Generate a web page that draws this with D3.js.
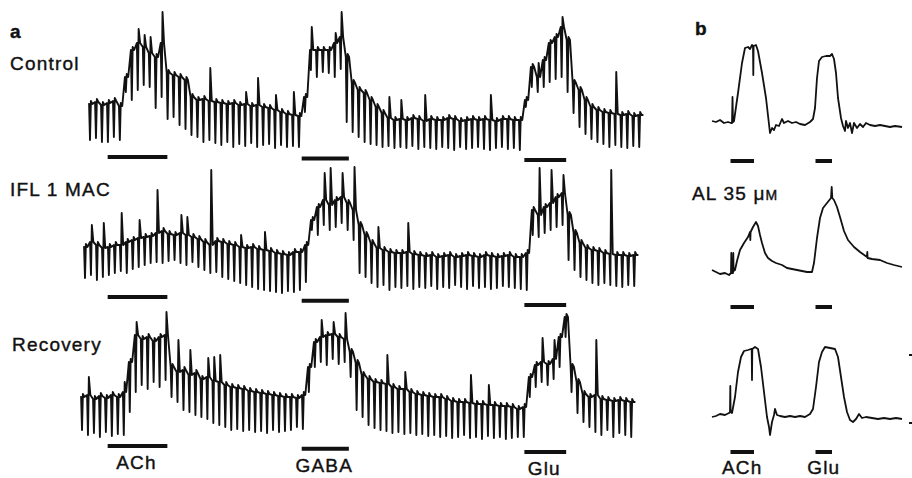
<!DOCTYPE html>
<html>
<head>
<meta charset="utf-8">
<script src="https://cdn.jsdelivr.net/npm/d3@7"></script>
<style>
body { margin: 0; background: #fff; }
text { font-family: "Liberation Sans", Arial, sans-serif; fill: #111; stroke: #111; stroke-width: 0.4px; }
</style>
</head>
<body>
<svg id="fig" width="912" height="478"></svg>
<script>
// panel a: one value per voltage pulse (pulse period = 1 time unit)
var rowsA = ["Control", "IFL 1 MAC", "Recovery"];
var drugsA = ["ACh", "GABA", "Glu"];
var drugStartA = [4.3, 36.8, 74.1];
var drugEndA = [14.3, 44.7, 81.1];
var traceStartA = [1.34, 0.5, 0];

// membrane level just before each pulse
var controlTop = [3,5,2,4,6,1,
	30,57,64,60,54,50,64,34,32,30,27,10,7,8,6,
	5,4,3,4,2,3,1,2,0,-1,-3,-5,-7,-8,-9,
	10,57,57,57,57,64,70,50,24,17,14,7,0,-6,-11,-13,
	-12,-13,-11,-12,-14,-12,-13,-13,-11,-12,-14,-13,-12,-13,-12,-13,-14,-12,-12,-13,-13,
	7,40,30,47,64,70,80,67,24,17,7,0,-3,-5,
	-6,-7,-8,-7,-9,-8];
// bottom of each pulse
var controlBot = [-33,-31,-35,-35,-30,-33,
	15,7,17,22,20,-1,10,-12,-10,-18,-22,-28,-30,-35,-33,
	-36,-38,-35,-40,-37,-39,-36,-40,-38,-37,-41,-38,-40,-39,-40,
	-5,37,30,35,34,30,38,-15,-25,-30,-35,-37,-38,-40,-39,-41,
	-40,-41,-39,-42,-40,-41,-42,-40,-41,-43,-40,-42,-41,-40,-42,-43,-41,-40,-42,-41,-43,
	0,20,15,20,25,28,30,15,-6,-20,-27,-32,-35,-37,
	-40,-38,-40,-41,-39,-40];
// [pulse, peak] for the taller upward transients
var controlSpikes = [[8,78],[9,72],[10,70],[12,95],[20,39],[26,15],[28,29],[31,12],[34,15],
	[37,80],[41,74],[42,95],[50,10],[52,7],[56,12],[67,12],[75,44],[79,90],[88,35]];

var iflTop = [-2,3,0,-3,-2,0,
	0,3,5,7,8,9,12,14,11,10,12,10,8,6,3,
	0,4,3,1,0,-2,-3,-2,-4,-5,-6,-8,-9,-10,-7,-7,
	0,25,38,45,40,45,48,42,35,20,10,2,-3,-5,-7,-8,-8,-7,-9,
	-10,-11,-10,-12,-11,-10,-12,-11,-10,-11,-12,-10,-11,-12,-11,-10,-12,-12,
	-8,35,30,38,42,48,52,30,12,2,-3,-5,-6,-8,-9,-10,-10,-11,-10];
var iflBot = [-33,-30,-35,-32,-30,-28,
	-26,-28,-24,-22,-20,-18,-17,-18,-16,-15,-18,-20,-17,-22,-25,
	-28,-27,-32,-34,-36,-38,-40,-42,-44,-45,-46,-47,-48,-46,-47,-45,
	-37,15,10,20,15,18,22,15,5,-28,-32,-38,-42,-40,-45,-42,-43,-41,-44,
	-42,-43,-41,-44,-42,-43,-40,-42,-44,-41,-43,-42,-44,-43,-41,-42,-43,-44,
	-45,10,8,12,15,18,20,-15,-25,-32,-35,-38,-40,-38,-40,-41,-42,-40,-41];
var iflSpikes = [[1,20],[3,22],[6,32],[9,25],[12,55],[16,30],[17,28],[21,75],[26,10],[30,13],
	[40,72],[41,77],[43,72],[45,78],[49,18],[54,22],[76,77],[78,75],[80,70],[88,75]];

var recoveryTop = [0,2,-2,1,-1,2,0,5,
	35,62,58,60,56,60,62,30,25,27,22,24,18,20,16,15,12,10,9,8,6,5,4,3,2,1,0,0,-1,
	2,30,55,60,62,63,60,58,45,34,22,18,15,14,13,10,8,8,5,3,2,1,0,0,-2,-4,-5,-5,-6,-7,-7,-8,-8,-9,-9,-10,-12,
	-10,20,32,35,33,38,60,80,30,15,3,0,2,-2,-3,-4,-3,-4,-5];
var recoveryBot = [-33,-38,-36,-40,-35,-39,-37,-38,
	-15,5,12,8,15,10,17,0,-5,-13,-15,-18,-20,-22,-26,-28,-30,-33,-32,-34,-33,-35,-34,-36,-33,-35,-34,-33,-30,
	-32,5,30,35,32,38,33,35,20,-13,-20,-28,-31,-33,-34,-36,-35,-37,-36,-38,-37,-39,-38,-40,-39,-41,-40,-38,-41,-40,-42,-39,-41,-40,-42,-41,-40,
	-40,0,10,15,12,18,30,60,5,-16,-25,-30,-35,-38,-33,-40,-36,-38,-40];
var recoverySpikes = [[1,20],[7,15],[9,75],[14,85],[16,57],[18,47],[21,39],[22,40],[23,42],
	[40,77],[42,75],[44,84],[51,42],[54,25],[65,22],[68,12],[77,59],[79,57],[86,57]];

// panel b: [time, value] samples of continuous recordings
var rowsB = ["", "AL 35 \u03bcM", ""];
var drugsB = ["ACh", "Glu"];
var drugStartB = [18.5, 103.5];
var drugEndB = [42, 120];

var bControl = [[0,2],[4,1],[8,3],[12,0],[16,1],[19,0],[20,0],[20.5,26],[21,1],[22,2],[26,30],[30,60],[33,75],
	[36,76],[38,74],[40,78],[41,77],[41.3,48],[41.6,77],[44,78],[46,72],[50,50],[54,25],[58,-10],[60,-5],
	[62,-7],[64,-2],[67,-3],[70,4],[72,0],[76,2],[80,0],[84,1],[88,-1],[93,-2],[98,1],[101,4],[103,15],
	[105,45],[107,62],[110,66],[114,67],[118,67],[120,69],[122,64],[124,50],[126,25],[129,5],[131,-3],
	[133,-8],[134,2],[136,-5],[138,0],[140,-10],[142,0],[145,-5],[148,-1],[151,-4],[154,0],[158,-2],
	[163,-3],[168,-2],[173,-3],[178,-4],[183,-3],[190,-4]];
var bAL = [[0,3],[4,1],[8,-1],[13,0],[17,-2],[19,0],[19.3,20],[19.6,0],[21,0],[21.3,20],[21.6,2],[23,3],
	[25,12],[28,23],[32,30],[36,36],[38,41],[38.3,33],[38.6,41],[41,46],[44,51],[46,47],[48,38],[50,30],
	[53,20],[56,15],[60,12],[64,10],[70,8],[75,5],[80,4],[85,3],[90,2],[95,1],[100,1],[102,10],[105,35],
	[108,55],[111,65],[115,70],[119,75],[119.7,86],[120.3,75],[122,73],[125,66],[128,56],[132,42],[136,33],
	[142,26],[148,21],[155,16],[155.3,21],[155.6,15],[160,14],[168,13],[175,10],[182,8],[190,6]];
var bRecovery = [[0,0],[4,1],[8,3],[13,2],[17,4],[18,5],[18.3,31],[18.6,5],[20,4],[23,20],[26,45],[29,60],
	[32,66],[36,67],[39,68],[39.7,68],[40,37],[40.3,68],[43,70],[46,68],[49,50],[52,25],[55,0],[57,-10],
	[58,-18],[60,-5],[62,2],[63,8],[65,2],[68,1],[73,0],[78,1],[83,0],[88,1],[93,0],[98,3],[101,8],[104,30],
	[107,55],[110,65],[113,70],[118,69],[123,68],[126,60],[129,40],[132,20],[135,5],[138,-3],[141,-5],
	[144,-2],[147,3],[150,-1],[154,0],[160,-1],[166,-2],[172,-1],[178,-2],[184,-1],[190,-2]];

var tracesA = [
	{top: controlTop, bot: controlBot, spikes: controlSpikes},
	{top: iflTop, bot: iflBot, spikes: iflSpikes},
	{top: recoveryTop, bot: recoveryBot, spikes: recoverySpikes}
];
var tracesB = [bControl, bAL, bRecovery];

var svg = d3.select("#fig");
var ink = "#111";

// layout of the rows
var rowA = [
	{base: 107, label: 70, barL: 157, barR: 160},
	{base: 245, label: 196, barL: 297, barR: 305},
	{base: 397, label: 351, barL: 446, barR: 452}
];
var rowB = [
	{base: 123, label: 0, bar: 161},
	{base: 273, label: 200, bar: 307},
	{base: 417, label: 0, bar: 452}
];

var xA = d3.scaleLinear().domain([0, 95]).range([82, 82 + 95 * 5.97]);
var xB = d3.scaleLinear().domain([0, 190]).range([712, 902]);

function yScale(base) {
	return d3.scaleLinear().domain([-50, 100]).range([base + 50, base - 100]);
}

function label(x, y, txt) {
	return svg.append("text").attr("x", x).attr("y", y)
		.style("font-size", "19px").style("letter-spacing", "1.2px")
		.text(txt);
}

svg.append("text").attr("x", 10).attr("y", 38)
	.style("font-size", "19px").style("font-weight", "bold").text("a");
svg.append("text").attr("x", 695).attr("y", 35)
	.style("font-size", "19px").style("font-weight", "bold").text("b");

tracesA.forEach(function (tr, r) {
	var y = yScale(rowA[r].base);
	var s = traceStartA[r];
	var sp = new Map(tr.spikes);
	var pts = [[s - 0.3, tr.top[0]]];
	tr.top.forEach(function (v, i) {
		var t = s + i;
		pts.push([t - 0.15, v]);
		pts.push([t, tr.bot[i]]);
		pts.push([t + 0.15, sp.has(i) ? sp.get(i) : v + 3]);
		pts.push([t + 0.4, v]);
	});
	pts.push([s + tr.top.length - 1 + 0.7, tr.top[tr.top.length - 1]]);

	var line = d3.line()
		.x(function (d) { return xA(d[0]); })
		.y(function (d) { return y(d[1]); });

	svg.append("path")
		.datum(pts)
		.attr("d", line)
		.attr("fill", "none")
		.attr("stroke", ink)
		.attr("stroke-width", 1.9)
		.attr("stroke-linejoin", "round");

	var barY = d3.scaleLinear().domain([137, 545]).range([rowA[r].barL, rowA[r].barR]);
	drugsA.forEach(function (name, k) {
		var x0 = xA(drugStartA[k]), x1 = xA(drugEndA[k]);
		svg.append("line")
			.attr("x1", x0).attr("x2", x1)
			.attr("y1", barY((x0 + x1) / 2)).attr("y2", barY((x0 + x1) / 2))
			.attr("stroke", ink).attr("stroke-width", 4);
		if (r == 2) {
			label((x0 + x1) / 2 - 1, barY((x0 + x1) / 2) + 23, name)
				.attr("text-anchor", "middle");
		}
	});

	label(r == 2 ? 12 : 10, rowA[r].label, rowsA[r]);
});

tracesB.forEach(function (tr, r) {
	var y = yScale(rowB[r].base);
	var line = d3.line()
		.x(function (d) { return xB(d[0]); })
		.y(function (d) { return y(d[1]); });

	svg.append("path")
		.datum(tr)
		.attr("d", line)
		.attr("fill", "none")
		.attr("stroke", ink)
		.attr("stroke-width", 1.8)
		.attr("stroke-linejoin", "round");

	drugsB.forEach(function (name, k) {
		var x0 = xB(drugStartB[k]), x1 = xB(drugEndB[k]);
		svg.append("line")
			.attr("x1", x0).attr("x2", x1)
			.attr("y1", rowB[r].bar).attr("y2", rowB[r].bar)
			.attr("stroke", ink).attr("stroke-width", 4);
		if (r == 2) {
			label((x0 + x1) / 2, 474, name).attr("text-anchor", "middle");
		}
	});

	if (rowsB[r]) {
		var lab = label(692, rowB[r].label, "");
		lab.append("tspan").text("AL 35 ");
		lab.append("tspan").text("\u03bc");
		lab.append("tspan").style("font-size", "14px").text("M");
	}
});

// cut-off scale marks at the right edge
[355, 423].forEach(function (yy) {
	svg.append("line").attr("x1", 909).attr("x2", 912)
		.attr("y1", yy).attr("y2", yy)
		.attr("stroke", ink).attr("stroke-width", 2);
});
</script>
</body>
</html>
